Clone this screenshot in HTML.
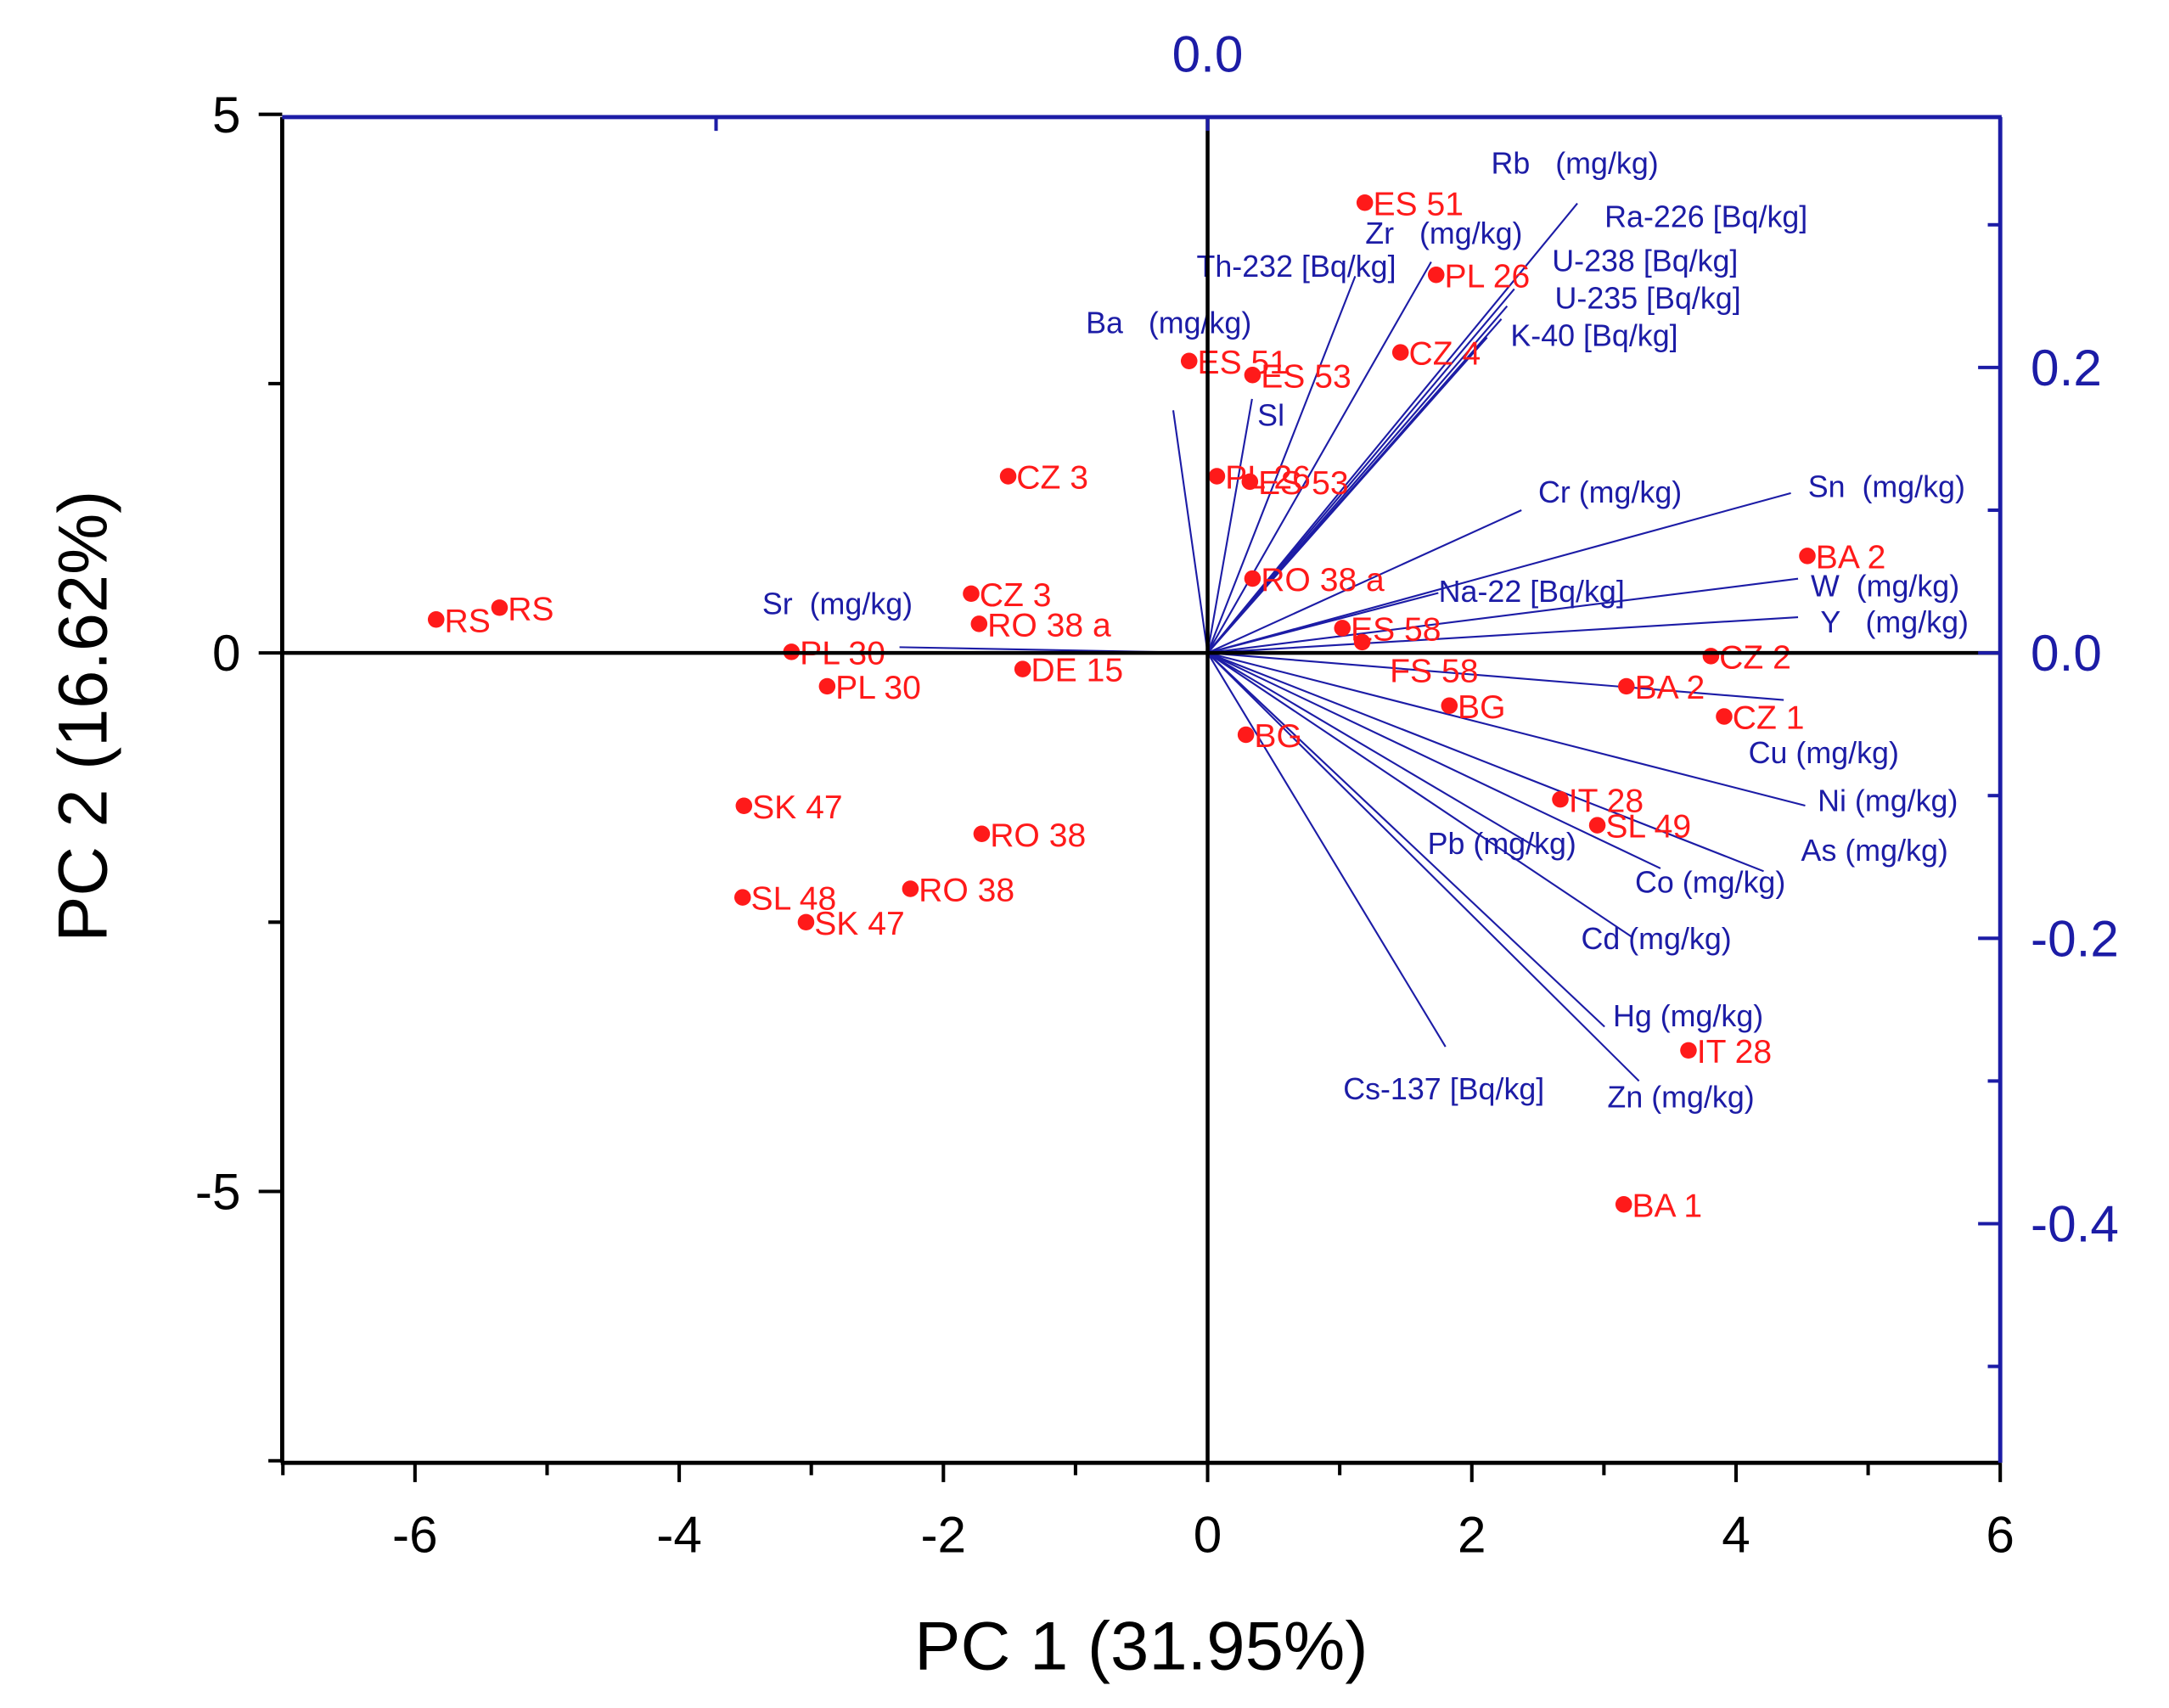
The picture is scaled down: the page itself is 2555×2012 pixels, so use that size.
<!DOCTYPE html>
<html><head><meta charset="utf-8"><style>
html,body{margin:0;padding:0;background:#fff;}
svg{display:block;}
text{font-family:"Liberation Sans",Arial,sans-serif;white-space:pre;}
</style></head><body>
<svg id="chart" xmlns="http://www.w3.org/2000/svg" width="2555" height="2012" viewBox="0 0 1568 1240" preserveAspectRatio="none">
<rect x="0" y="0" width="1568" height="1240" fill="#fff"/>
<g id="loadings"></g>
<g id="scores"></g>
<g id="axes"></g>
</svg>
<script>
// ---- data ----
const xTicks = [-6, -4, -2, 0, 2, 4, 6];
const xMinorTicks = [-7, -5, -3, -1, 1, 3, 5];
const yTicks = [5, 0, -5];
const yMinorTicks = [2.5, -2.5, -7.5];
const rightTicks = [0.2, 0.0, -0.2, -0.4];
const rightTickLabels = ["0.2", "0.0", "-0.2", "-0.4"];
const rightMinorTicks = [0.3, 0.1, -0.1, -0.3, -0.5];
const topTicks = [-0.343, 0.0];

const sampleNames = ["RS","RS","PL 30","PL 30","CZ 3","CZ 3","RO 38 a","DE 15","SK 47","RO 38","SL 48","RO 38","SK 47",
  "ES 51","PL 26","CZ 4","ES 51","ES 53","PL 26","ES 53","RO 38 a","ES 58","FS 58","BA 2","CZ 2","BA 2","BG","CZ 1","BG",
  "IT 28","SL 49","IT 28","BA 1"];
const pc1 = [-5.84,-5.36,-3.15,-2.88,-1.51,-1.79,-1.73,-1.40,-3.51,-1.71,-3.52,-2.25,-3.04,
  1.19,1.73,1.46,-0.14,0.34,0.07,0.32,0.34,1.02,1.17,4.54,3.81,3.17,1.83,3.91,0.29,
  2.67,2.95,3.64,3.15];
const pc2 = [0.31,0.42,0.01,-0.31,1.64,0.55,0.27,-0.15,-1.42,-1.68,-2.27,-2.19,-2.50,
  4.18,3.51,2.79,2.71,2.58,1.64,1.59,0.69,0.23,0.10,0.90,-0.03,-0.31,-0.49,-0.59,-0.76,
  -1.36,-1.60,-3.69,-5.12];

const varNames = ["Rb   (mg/kg)","Ra-226 [Bq/kg]","U-238 [Bq/kg]","U-235 [Bq/kg]","K-40 [Bq/kg]","Zr   (mg/kg)","Th-232 [Bq/kg]",
  "Ba   (mg/kg)","Sl","Cr (mg/kg)","Sn  (mg/kg)","W  (mg/kg)","Y   (mg/kg)","Na-22 [Bq/kg]","Sr  (mg/kg)",
  "Cu (mg/kg)","Ni (mg/kg)","As (mg/kg)","Co (mg/kg)","Pb (mg/kg)","Cd (mg/kg)","Hg (mg/kg)","Zn (mg/kg)","Cs-137 [Bq/kg]"];
const load1 = [0.258,0.214,0.209,0.205,0.195,0.156,0.103,-0.024,0.031,0.219,0.407,0.412,0.412,0.161,-0.215,
  0.402,0.417,0.388,0.316,0.229,0.296,0.277,0.301,0.166];
const load2 = [0.315,0.255,0.243,0.234,0.221,0.274,0.264,0.170,0.178,0.100,0.112,0.052,0.025,0.042,0.004,
  -0.033,-0.107,-0.153,-0.151,-0.136,-0.199,-0.262,-0.300,-0.276];

// ---- layout (not data) ----
const X0 = 873, XS = 95.5, Y0 = 474, YS = 78.2, LS = 1036;
const L = 204, R = 1446, T = 85, B = 1062;
const sx = v => X0 + v * XS;
const sy = v => Y0 - v * YS;
const lx = v => X0 + v * LS;
const ly = v => Y0 - v * LS;
const varLabelPos = [[1078,126],[1160,165],[1122,197],[1124,224],[1092,251],[987,177],[865,201],
  [785,242],[909,309],[1112,365],[1307,361],[1309,433],[1316,459],[1040,437],[551,446],
  [1264,554],[1314,589],[1302,625],[1182,648],[1032,620],[1143,689],[1166,745],[1162,804],[971,798]];

const NS = "http://www.w3.org/2000/svg";
function mk(tag, attrs, parent, txt) {
  const e = document.createElementNS(NS, tag);
  for (const k in attrs) e.setAttribute(k, attrs[k]);
  if (txt !== undefined) e.textContent = txt;
  parent.appendChild(e);
  return e;
}
const gL = document.getElementById('loadings');
const gS = document.getElementById('scores');
const gA = document.getElementById('axes');
const BLUE = "#1c1ca6", RED = "#ff1a1a";

// loading vectors
for (let i = 0; i < varNames.length; i++) {
  const ln = mk('line', {x1: X0, y1: Y0, x2: lx(load1[i]), y2: ly(load2[i]), stroke: BLUE, 'stroke-width': 1.3}, gL);
  
  
  const t = mk('text', {x: varLabelPos[i][0], y: varLabelPos[i][1], fill: BLUE, 'font-size': 22}, gL, varNames[i]);
  
  
}

// axes zero lines
const zh = mk('line', {x1: L, y1: Y0, x2: R, y2: Y0, stroke: '#000', 'stroke-width': 2.8}, gA);


const zv = mk('line', {x1: X0, y1: T, x2: X0, y2: B, stroke: '#000', 'stroke-width': 2.8}, gA);



// score points
for (let i = 0; i < sampleNames.length; i++) {
  const c = mk('circle', {cx: sx(pc1[i]), cy: sy(pc2[i]), r: 6, fill: RED}, gS);
  
  
  const special = sampleNames[i] === 'FS 58';
  const t = mk('text', {x: sx(pc1[i]) + (special ? 20 : 6), y: sy(pc2[i]) + (special ? 29 : 9), fill: RED, 'font-size': 24}, gS, sampleNames[i]);
  
  
}

// frame
const la = mk('line', {x1: L, y1: T, x2: L, y2: B, stroke: '#000', 'stroke-width': 3}, gA);


const ba = mk('line', {x1: L - 1, y1: B, x2: R, y2: B, stroke: '#000', 'stroke-width': 3}, gA);


const ta = mk('line', {x1: L, y1: T, x2: R + 1, y2: T, stroke: BLUE, 'stroke-width': 3}, gA);


const ra = mk('line', {x1: R, y1: T, x2: R, y2: B, stroke: BLUE, 'stroke-width': 3}, gA);



// bottom ticks
xTicks.forEach(v => {
  const tk = mk('line', {x1: sx(v), y1: B, x2: sx(v), y2: B + 14, stroke: '#000', 'stroke-width': 2.5}, gA);
  
  
  const t = mk('text', {x: sx(v), y: B + 65, 'text-anchor': 'middle', 'font-size': 37, fill: '#000'}, gA, String(v));
  
  
});
xMinorTicks.forEach(v => {
  const tk = mk('line', {x1: sx(v), y1: B, x2: sx(v), y2: B + 9, stroke: '#000', 'stroke-width': 2.5}, gA);
  
  
});
// left ticks
yTicks.forEach(v => {
  const tk = mk('line', {x1: L - 17, y1: sy(v), x2: L, y2: sy(v), stroke: '#000', 'stroke-width': 2.5}, gA);
  
  
  const t = mk('text', {x: L - 30, y: sy(v) + 13, 'text-anchor': 'end', 'font-size': 37, fill: '#000'}, gA, String(v));
  
  
});
yMinorTicks.forEach(v => {
  const tk = mk('line', {x1: L - 10, y1: sy(v), x2: L, y2: sy(v), stroke: '#000', 'stroke-width': 2.5}, gA);
  
  
});
// right ticks
rightTicks.forEach((v, i) => {
  const tk = mk('line', {x1: R - 16, y1: ly(v), x2: R, y2: ly(v), stroke: BLUE, 'stroke-width': 2.5}, gA);
  
  
  const t = mk('text', {x: R + 22, y: ly(v) + 13, 'font-size': 37, fill: BLUE}, gA, rightTickLabels[i]);
  
  
});
rightMinorTicks.forEach(v => {
  const tk = mk('line', {x1: R - 9, y1: ly(v), x2: R, y2: ly(v), stroke: BLUE, 'stroke-width': 2.5}, gA);
  
  
});
topTicks.forEach(v => {
  const tk = mk('line', {x1: lx(v), y1: T, x2: lx(v), y2: T + 10, stroke: BLUE, 'stroke-width': 2.5}, gA);
  
  
});
const tt = mk('text', {x: X0, y: 52, 'text-anchor': 'middle', 'font-size': 37, fill: BLUE}, gA, "0.0");



// titles
const xt = mk('text', {x: 825, y: 1212, 'text-anchor': 'middle', 'font-size': 50, fill: '#000'}, gA, "PC 1 (31.95%)");


const yt = mk('text', {x: 0, y: 0, 'text-anchor': 'middle', 'font-size': 50, fill: '#000', transform: 'translate(77,520) rotate(-90)'}, gA, "PC 2 (16.62%)");


</script>
</body></html>
